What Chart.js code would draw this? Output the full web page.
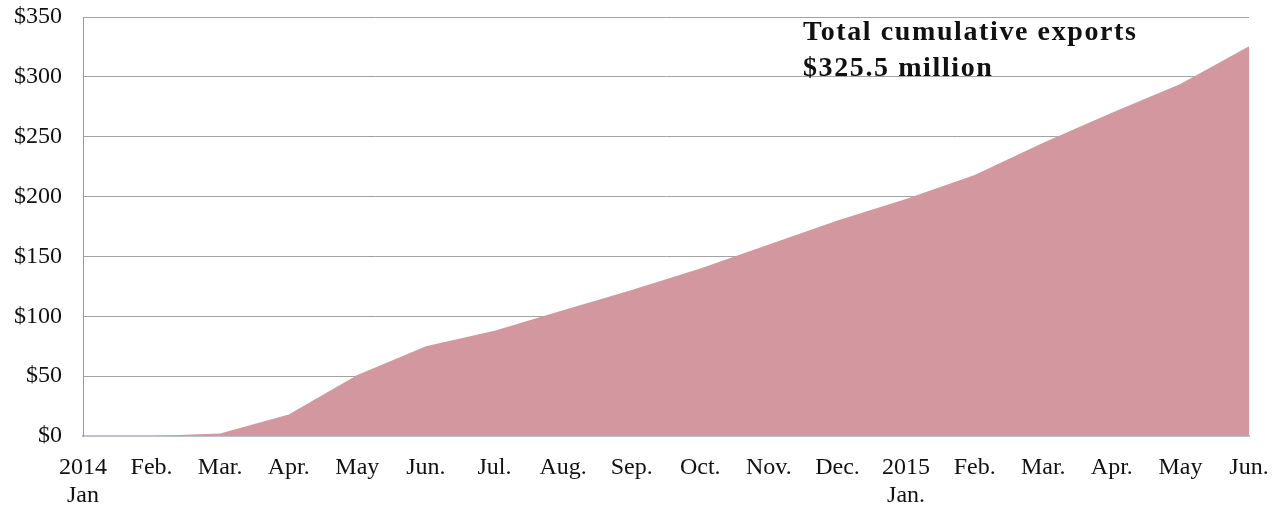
<!DOCTYPE html>
<html>
<head>
<meta charset="utf-8">
<script src="https://cdn.jsdelivr.net/npm/chart.js@4"></script>
<style>
    html, body { margin: 0; padding: 0; background: #fff; }
    #wrap { width: 1279px; height: 510px; position: relative; }
</style>
</head>
<body>
<div id="wrap"><canvas id="chart"></canvas></div>
<script>
const months = [
    ['2014', 'Jan'], 'Feb.', 'Mar.', 'Apr.', 'May', 'Jun.', 'Jul.', 'Aug.', 'Sep.',
    'Oct.', 'Nov.', 'Dec.', ['2015', 'Jan.'], 'Feb.', 'Mar.', 'Apr.', 'May', 'Jun.'
];
// cumulative exports, million USD
const cumulativeExports = [0, 0, 2, 18, 51, 75, 88, 105, 122, 140, 160, 180, 198, 218, 245, 270, 294, 325.5];
const yTicks = [0, 50, 100, 150, 200, 250, 300, 350];
const noteLines = ['Total cumulative exports', '$325.5 million'];

const serif = '"Liberation Serif", "Times New Roman", serif';

const notePlugin = {
    id: 'note',
    afterDraw: (c) => {
        const ctx = c.ctx;
        ctx.save();
        ctx.fillStyle = '#111';
        ctx.font = 'bold 28px ' + serif;
        ctx.letterSpacing = '1.6px';
        ctx.textAlign = 'left';
        ctx.textBaseline = 'alphabetic';
        ctx.fillText(noteLines[0], 803, 40);
        ctx.fillText(noteLines[1], 803, 76);
        ctx.restore();
    }
};

const ctx = document.getElementById('chart').getContext('2d');

const chart = new Chart(ctx, {
    type: 'line',
    data: {
        labels: months,
        datasets: [{
            label: 'Cumulative exports',
            data: cumulativeExports,
            fill: 'origin',
            backgroundColor: '#d3979f',
            borderWidth: 0,
            pointRadius: 0,
            tension: 0
        }]
    },
    options: {
        responsive: true,
        maintainAspectRatio: false,
        animation: false,
        layout: { padding: { top: 17, right: 30, left: 0, bottom: 0 } },
        plugins: {
            legend: { display: false },
            tooltip: { enabled: false }
        },
        scales: {
            x: {
                offset: false,
                grid: { display: false, drawTicks: false },
                border: { color: '#b9c3d3', width: 2 },
                ticks: {
                    color: '#111',
                    autoSkip: false,
                    maxRotation: 0,
                    padding: 18,
                    font: { family: serif, size: 24, lineHeight: 1.15 }
                },
                afterFit: (scale) => {
                    scale.height = 74;
                    scale.paddingLeft = 0;
                    scale.paddingRight = 0;
                }
            },
            y: {
                min: 0,
                max: 350,
                afterBuildTicks: (scale) => { scale.ticks = yTicks.map(v => ({ value: v })); },
                grid: { color: '#a3a3a3', lineWidth: 1, drawTicks: false },
                border: { color: '#9a9a9a', width: 1 },
                ticks: {
                    color: '#111',
                    padding: 21,
                    font: { family: serif, size: 24 },
                    callback: (v) => '$' + v
                },
                afterFit: (scale) => {
                    scale.width = 83;
                    scale.paddingTop = 0;
                    scale.paddingBottom = 0;
                }
            }
        }
    },
    plugins: [notePlugin]
});
</script>
</body>
</html>
